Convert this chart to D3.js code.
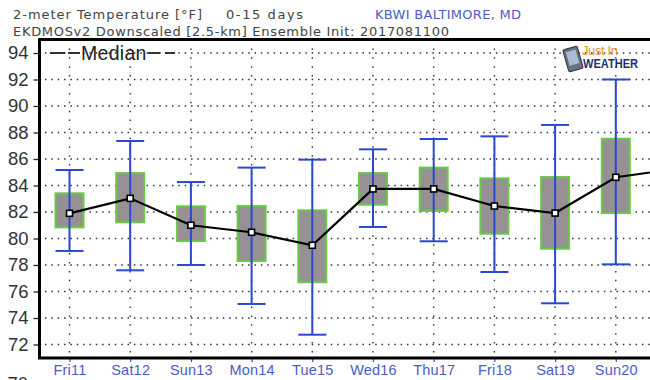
<!DOCTYPE html>
<html>
<head>
<meta charset="utf-8">
<script src="https://cdn.jsdelivr.net/npm/d3@7"></script>
<style>
html, body { margin: 0; padding: 0; background: #fff; overflow: hidden; }
svg { display: block; }
</style>
</head>
<body>
<div id="chart"></div>
<script>
// values, Mon21 is only seen as the end of the median line
var days = ["Fri11", "Sat12", "Sun13", "Mon14", "Tue15", "Wed16", "Thu17", "Fri18", "Sat19", "Sun20"];
var lastDay = "Mon21";
var highs = [85.17, 87.36, 84.26, 85.35, 85.95, 86.73, 87.51, 87.71, 88.57, 92.0];
var boxTops = [83.41, 84.94, 82.43, 82.45, 82.13, 84.94, 85.35, 84.54, 84.64, 87.53];
var medians = [81.9, 83.03, 81.0, 80.47, 79.49, 83.74, 83.74, 82.45, 81.92, 84.62, 85.26];
var boxBottoms = [80.84, 81.22, 79.81, 78.3, 76.7, 82.55, 82.08, 80.36, 79.23, 81.92];
var lows = [79.06, 77.6, 78.0, 75.06, 72.74, 80.87, 79.79, 77.47, 75.11, 78.05];
var yTicks = [72, 74, 76, 78, 80, 82, 84, 86, 88, 90, 92, 94];

var width = 650, height = 380;
var plotLeft = 39.5, plotTop = 39.5, plotBottom = 358;
var titleFont = "'DejaVu Sans', sans-serif";
var labelFont = "'Liberation Sans', Arial, sans-serif";
var blue = "#4a5cc9";

var svg = d3.select("#chart").append("svg")
    .attr("width", width)
    .attr("height", height);

var xScale = d3.scalePoint()
    .domain(days.concat([lastDay]))
    .range([69.5, 676.5]);

var yScale = d3.scaleLinear()
    .domain([72, 94])
    .range([344.5, 53]);

// dotted grid
svg.append("g").selectAll("line")
    .data(yTicks)
    .enter()
    .append("line")
    .attr("x1", 45)
    .attr("x2", width)
    .attr("y1", function (d) { return yScale(d); })
    .attr("y2", function (d) { return yScale(d); })
    .attr("stroke", "#333")
    .attr("stroke-width", 1.4)
    .attr("stroke-dasharray", "1.5 4.85");

svg.append("g").selectAll("line")
    .data(days)
    .enter()
    .append("line")
    .attr("x1", function (d) { return xScale(d); })
    .attr("x2", function (d) { return xScale(d); })
    .attr("y1", plotTop)
    .attr("y2", plotBottom)
    .attr("stroke", "#333")
    .attr("stroke-width", 1.4)
    .attr("stroke-dasharray", "1.5 7.4");

// axes
var yAxis = svg.append("g")
    .attr("transform", "translate(" + plotLeft + ",0)")
    .call(d3.axisLeft(yScale).tickValues(yTicks).tickSize(6).tickPadding(5).tickFormat(d3.format("d")));
yAxis.select(".domain").remove();
yAxis.selectAll("line").attr("stroke", "#222").attr("stroke-width", 1.3);
yAxis.selectAll("text")
    .attr("font-family", labelFont)
    .attr("font-size", 18.5)
    .attr("fill", "#333");

var xAxis = svg.append("g")
    .attr("transform", "translate(0," + plotBottom + ")")
    .call(d3.axisBottom(xScale).tickValues(days).tickSize(4).tickPadding(3));
xAxis.select(".domain").remove();
xAxis.selectAll("line").attr("stroke", blue).attr("stroke-width", 1.3);
xAxis.selectAll("text")
    .attr("font-family", labelFont)
    .attr("font-size", 14.5)
    .attr("letter-spacing", 0.2)
    .attr("fill", blue);

// the 70 label is cut off by the bottom of the picture
svg.append("text")
    .attr("x", 28)
    .attr("y", 390)
    .attr("text-anchor", "end")
    .attr("font-family", labelFont)
    .attr("font-size", 18.5)
    .attr("fill", "#333")
    .text("70");

// frame, the right side runs off the picture
svg.append("path")
    .attr("d", "M" + width + "," + plotTop + "H" + plotLeft + "V" + plotBottom + "H" + width)
    .attr("fill", "none")
    .attr("stroke", "#000")
    .attr("stroke-width", 3);

// boxes and whiskers
svg.append("g").selectAll("rect")
    .data(days)
    .enter()
    .append("rect")
    .attr("x", function (d) { return xScale(d) - 14; })
    .attr("width", 28)
    .attr("y", function (d, i) { return yScale(boxTops[i]); })
    .attr("height", function (d, i) { return yScale(boxBottoms[i]) - yScale(boxTops[i]); })
    .attr("fill", "#979193")
    .attr("stroke", "#66cc44")
    .attr("stroke-width", 2);

var whiskers = svg.append("g")
    .attr("stroke", "#2a48d0")
    .attr("stroke-width", 2);

whiskers.selectAll(".stem")
    .data(days)
    .enter()
    .append("line")
    .attr("class", "stem")
    .attr("x1", function (d) { return xScale(d); })
    .attr("x2", function (d) { return xScale(d); })
    .attr("y1", function (d, i) { return yScale(highs[i]); })
    .attr("y2", function (d, i) { return yScale(lows[i]); });

[highs, lows].forEach(function (vals) {
    whiskers.selectAll(null)
        .data(days)
        .enter()
        .append("line")
        .attr("x1", function (d) { return xScale(d) - 14; })
        .attr("x2", function (d) { return xScale(d) + 14; })
        .attr("y1", function (d, i) { return yScale(vals[i]); })
        .attr("y2", function (d, i) { return yScale(vals[i]); });
});

// median line
var medianLine = d3.line()
    .x(function (d, i) { return xScale.domain().map(xScale)[i]; })
    .y(function (d) { return yScale(d); });

svg.append("path")
    .datum(medians)
    .attr("d", medianLine)
    .attr("fill", "none")
    .attr("stroke", "#000")
    .attr("stroke-width", 2.2);

svg.append("g").selectAll("rect")
    .data(days)
    .enter()
    .append("rect")
    .attr("x", function (d) { return xScale(d) - 3; })
    .attr("y", function (d, i) { return yScale(medians[i]) - 3; })
    .attr("width", 6)
    .attr("height", 6)
    .attr("fill", "#fff")
    .attr("stroke", "#000")
    .attr("stroke-width", 1.6);

// titles
var titles = [
    { text: "2-meter Temperature [°F]", x: 13, y: 19, w: 189, fill: "#444" },
    { text: "0-15 days", x: 226, y: 19, w: 77, fill: "#444" },
    { text: "KBWI BALTIMORE, MD", x: 375, y: 19, w: 146, fill: blue },
    { text: "EKDMOSv2 Downscaled [2.5-km] Ensemble Init: 2017081100", x: 13, y: 36, w: 436, fill: "#444" }
];
svg.append("g").selectAll("text")
    .data(titles)
    .enter()
    .append("text")
    .attr("x", function (d) { return d.x; })
    .attr("y", function (d) { return d.y; })
    .attr("textLength", function (d) { return d.w; })
    .attr("lengthAdjust", "spacing")
    .attr("font-family", titleFont)
    .attr("font-size", 13)
    .attr("fill", function (d) { return d.fill; })
    .text(function (d) { return d.text; });

// legend
svg.append("text")
    .attr("x", 81)
    .attr("y", 59.5)
    .attr("font-family", labelFont)
    .attr("font-size", 19.5)
    .attr("letter-spacing", 0.3)
    .attr("fill", "#222")
    .text("Median");

[[50, 65], [68, 80], [148, 160], [165, 175]].forEach(function (seg) {
    svg.append("line")
        .attr("x1", seg[0])
        .attr("x2", seg[1])
        .attr("y1", 53)
        .attr("y2", 53)
        .attr("stroke", "#222")
        .attr("stroke-width", 1.8);
});

// logo
var logo = svg.append("g");
logo.append("rect")
    .attr("x", -7.5)
    .attr("y", -11.5)
    .attr("width", 15)
    .attr("height", 23)
    .attr("rx", 2)
    .attr("transform", "translate(573,59) rotate(-16)")
    .attr("fill", "#6a7080")
    .attr("stroke", "#333")
    .attr("stroke-width", 1);
logo.append("rect")
    .attr("x", -5)
    .attr("y", -8.5)
    .attr("width", 10)
    .attr("height", 14)
    .attr("transform", "translate(573,59) rotate(-16)")
    .attr("fill", "#a9bcd6");
logo.append("text")
    .attr("x", 582)
    .attr("y", 55)
    .attr("font-family", labelFont)
    .attr("font-size", 13)
    .attr("textLength", 36)
    .attr("fill", "#e8901e")
    .text("Just In");
logo.append("text")
    .attr("x", 583)
    .attr("y", 68)
    .attr("font-family", labelFont)
    .attr("font-size", 13.5)
    .attr("font-weight", "bold")
    .attr("textLength", 55)
    .attr("lengthAdjust", "spacingAndGlyphs")
    .attr("fill", "#1b2f7c")
    .text("WEATHER");
</script>
</body>
</html>
